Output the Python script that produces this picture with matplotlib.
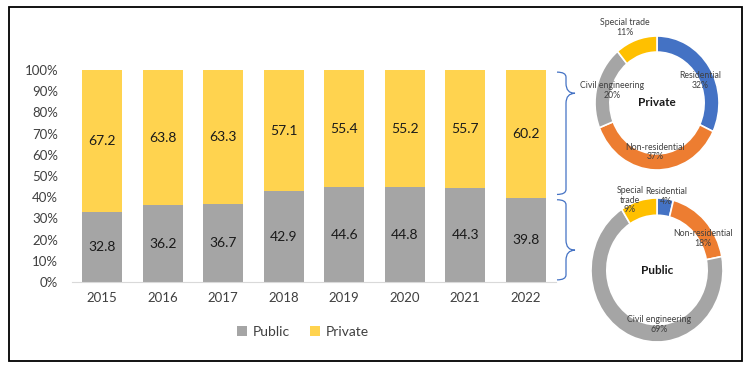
import matplotlib
matplotlib.use('Agg')
import matplotlib.pyplot as plt
from matplotlib.patches import Rectangle, PathPatch
from matplotlib.path import Path
import numpy as np

plt.rcParams['font.family'] = ['Lato', 'DejaVu Sans']

# Data
years = ['2015', '2016', '2017', '2018', '2019', '2020', '2021', '2022']
public = [32.8, 36.2, 36.7, 42.9, 44.6, 44.8, 44.3, 39.8]
private = [67.2, 63.8, 63.3, 57.1, 55.4, 55.2, 55.7, 60.2]

segments = ['Residential', 'Non-residential', 'Civil engineering', 'Special trade']
seg_colors = ['#4472C4', '#ED7D31', '#A5A5A5', '#FFC000']
private_split = [32, 37, 20, 11]
public_split = [4, 18, 69, 9]
private_names = ['Residential', 'Non-residential', 'Civil engineering', 'Special trade']
public_names = ['Residential', 'Non-residential', 'Civil engineering', 'Special\ntrade']

GRAY = '#A5A5A5'
YELLOW = '#FFD34F'
TXT = '#404040'

W, H = 750, 370
fig = plt.figure(figsize=(W / 100, H / 100), dpi=100)

def fbox(x0, y0, x1, y1):
    # pixel box (top-left origin) -> figure fraction rect
    return [x0 / W, 1 - y1 / H, (x1 - x0) / W, (y1 - y0) / H]

# stacked bars
ax = fig.add_axes(fbox(72, 70, 556, 282))
x = np.arange(len(years))
ax.bar(x, public, width=0.66, color=GRAY, label='Public')
ax.bar(x, private, width=0.66, bottom=public, color=YELLOW, label='Private')
for i in range(len(years)):
    ax.text(x[i], public[i] / 2, f'{public[i]:.1f}', ha='center', va='center',
            fontsize=10, color='#1a1a1a')
    ax.text(x[i], public[i] + private[i] / 2, f'{private[i]:.1f}', ha='center',
            va='center', fontsize=10, color='#1a1a1a')
ax.set_xlim(-0.5, len(years) - 0.5)
ax.set_ylim(0, 100)
ax.set_yticks(np.arange(0, 101, 10))
ax.set_yticklabels([f'{v}%' for v in range(0, 101, 10)])
ax.set_xticks(x)
ax.set_xticklabels(years)
ax.tick_params(axis='y', length=0, pad=10, labelsize=9.5, labelcolor=TXT)
ax.tick_params(axis='x', length=0, pad=7, labelsize=9.5, labelcolor=TXT)
for s in ['top', 'right', 'left']:
    ax.spines[s].set_visible(False)
ax.spines['bottom'].set_color('#D9D9D9')

fig.legend(loc='center', bbox_to_anchor=(303 / W, 1 - 332 / H), ncol=2,
           frameon=False, fontsize=10, handlelength=0.7, handleheight=0.7,
           handletextpad=0.4, columnspacing=1.5, labelcolor=TXT)

# donuts
def donut(rect, values, names, label_pos, title, width):
    dax = fig.add_axes(rect)
    dax.pie(values, colors=seg_colors, startangle=90, counterclock=False,
            wedgeprops=dict(width=width, edgecolor='white', linewidth=1.2))
    dax.set_aspect('auto')
    dax.set_xlim(-1, 1)
    dax.set_ylim(-1, 1)
    dax.axis('off')
    for name, v, (px, py) in zip(names, values, label_pos):
        dax.text(px, py, f'{name}\n{v}%', ha='center', va='center',
                 fontsize=6.3, color=TXT, linespacing=1.1)
    dax.text(0, 0, title, ha='center', va='center', fontsize=8.5,
             fontweight='bold', color='#1a1a1a')
    return dax

donut(fbox(595, 36, 719, 170), private_split, private_names,
      [(0.69, 0.34), (-0.03, -0.73), (-0.73, 0.19), (-0.52, 1.13)],
      'Private', 0.24)
donut(fbox(591, 198, 723, 342), public_split, public_names,
      [(0.14, 1.02), (0.70, 0.44), (0.03, -0.76), (-0.41, 0.97)],
      'Public', 0.24)

# overlay in pixel coordinates for border and braces
ov = fig.add_axes([0, 0, 1, 1], zorder=-1)
ov.set_xlim(0, W)
ov.set_ylim(H, 0)
ov.axis('off')
ov.add_patch(Rectangle((9, 7), 733, 354, fill=False, edgecolor='black', lw=1.3))

def ypix(v):
    return H - ax.transData.transform((0, v))[1]

def brace(x0, ytop, ybot, ytip, w=9):
    xm = x0 + w
    xt = x0 + 2 * w
    c = 5
    verts = [(x0, ytop), (xm, ytop), (xm, ytop + c), (xm, ytop + c * 2),
             (xm, ytip - c * 2), (xm, ytip), (xt, ytip),
             (xm, ytip), (xm, ytip + c * 2),
             (xm, ybot - c * 2), (xm, ybot - c), (xm, ybot), (x0, ybot)]
    codes = [Path.MOVETO, Path.CURVE3, Path.CURVE3, Path.LINETO,
             Path.LINETO, Path.CURVE3, Path.CURVE3,
             Path.CURVE3, Path.CURVE3,
             Path.LINETO, Path.LINETO, Path.CURVE3, Path.CURVE3]
    ov.add_patch(PathPatch(Path(verts, codes), fill=False, edgecolor='#4472C4',
                           lw=0.9))

last = len(years) - 1
brace(557, ypix(99), ypix(public[last] + 1.5), ypix(89))
brace(557, ypix(public[last] - 1), ypix(1), ypix(15))

fig.savefig('out.png', dpi=100)
